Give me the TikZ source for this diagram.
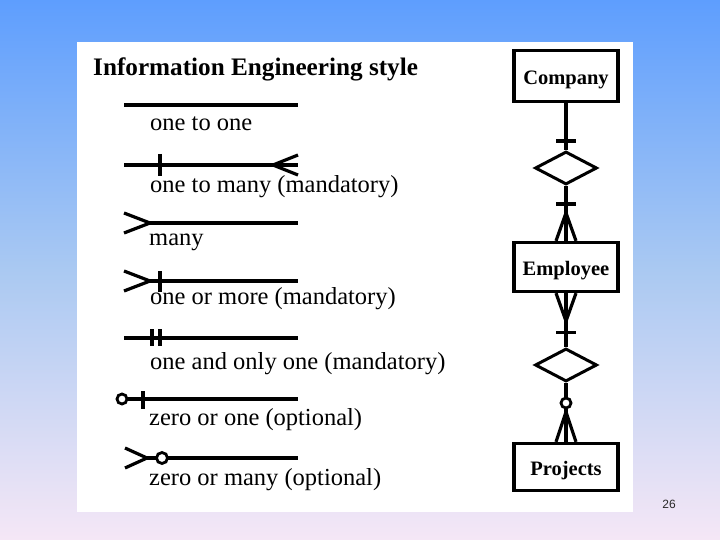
\documentclass[tikz,border=0pt]{standalone}
\usepackage{fontspec}
\setmainfont{Liberation Serif}
\newfontfamily\numfont{Liberation Sans}
\usetikzlibrary{shapes.geometric}
\definecolor{bgtop}{RGB}{94,158,254}
\definecolor{bgmid}{RGB}{170,201,242}
\definecolor{bgbot}{RGB}{245,231,246}
\definecolor{numcol}{RGB}{40,40,40}
\tikzset{
  ln/.style={line width=3.2bp},
  ent/.style={draw, line width=3.2bp, minimum width=104bp, inner sep=0pt, fill=white,
    text height=17bp, text depth=0bp,
    font=\bfseries\fontsize{20.5bp}{24bp}\selectfont},
  rel/.style={draw, shape=diamond, line width=3bp, minimum width=62bp, minimum height=33bp,
    inner sep=0pt, fill=white},
  lbl/.style={anchor=base west, inner sep=0pt, font=\fontsize{24.5bp}{28bp}\selectfont},
  ttl/.style={anchor=base west, inner sep=0pt, font=\bfseries\fontsize{25.2bp}{28bp}\selectfont},
  ring/.style={line width=2.8bp, fill=white},
}
\begin{document}
\begin{tikzpicture}[x=1bp,y=-1bp]
\useasboundingbox (0,0) rectangle (720,540);
\shade[top color=bgtop, bottom color=bgbot, middle color=bgmid] (0,0) rectangle (720,540);
\fill[white] (77,42) rectangle (633,512);

% title
\node[ttl] (title) at (93,76) {Information Engineering style};

% legend 1: one to one
\coordinate (a1) at (124,105); \coordinate (b1) at (298,105);
\draw[ln] (a1) -- (b1);
\node[lbl] (t1) at (150,131) {one to one};

% legend 2: one to many
\coordinate (a2) at (124,165); \coordinate (b2) at (298,165);
\draw[ln] (a2) -- (b2);
\draw[ln] (a2) ++(36,-11) -- ++(0,22);
\draw[ln] (b2) ++(0,-10) -- ++(-25,10) -- ++(25,10);
\node[lbl] (t2) at (150,193) {one to many (mandatory)};

% legend 3: many
\coordinate (a3) at (124,223); \coordinate (b3) at (298,223);
\draw[ln] (a3) ++(26,0) -- (b3);
\draw[ln] (a3) ++(0,-10) -- ++(26,10) -- ++(-26,10);
\node[lbl] (t3) at (149,246) {many};

% legend 4: one or more
\coordinate (a4) at (124,281); \coordinate (b4) at (298,281);
\draw[ln] (a4) ++(26,0) -- (b4);
\draw[ln] (a4) ++(0,-10) -- ++(26,10) -- ++(-26,10);
\draw[ln] (a4) ++(36,-10) -- ++(0,21);
\node[lbl] (t4) at (150,304) {one or more (mandatory)};

% legend 5: one and only one
\coordinate (a5) at (124,338); \coordinate (b5) at (298,338);
\draw[ln] (a5) -- (b5);
\draw[ln] (a5) ++(28,-9) -- ++(0,17);
\draw[ln] (a5) ++(36,-9) -- ++(0,17);
\node[lbl] (t5) at (150,369) {one and only one (mandatory)};

% legend 6: zero or one
\coordinate (a6) at (122,399); \coordinate (b6) at (298,399);
\draw[ln] (a6) -- (b6);
\draw[ln] (a6) ++(21,-8) -- ++(0,18);
\draw[ring] (a6) circle[radius=5];
\node[lbl] (t6) at (149,425) {zero or one (optional)};

% legend 7: zero or many
\coordinate (a7) at (125,458); \coordinate (b7) at (298,458);
\draw[ln] (a7) ++(22,0) -- (b7);
\draw[ln] (a7) ++(0,-10) -- ++(22,10) -- ++(-22,10);
\draw[ring] (a7) ++(37,0) circle[radius=5.5];
\node[lbl] (t7) at (149,485) {zero or many (optional)};

% ER diagram
\node[ent, minimum height=51bp] (C) at (566,76) {Company};
\node[ent, minimum height=49bp] (E) at (566,267) {Employee};
\node[ent, minimum height=47bp] (P) at (566,467) {Projects};
\node[rel] (D1) at (566,168) {};
\node[rel] (D2) at (566,365) {};

% Company -- D1
\draw[ln] (C.south) -- (D1.north);
\draw[ln] (C.south) ++(-10,38) -- ++(20,0);
% D1 -- Employee
\draw[ln] (D1.south) -- (E.north);
\draw[ln] (D1.south) ++(-10,18) -- ++(20,0);
\draw[ln] (E.north) ++(-10,0) -- ++(10,-28) -- ++(10,28);
% Employee -- D2
\draw[ln] (E.south) -- (D2.north);
\draw[ln] (E.south) ++(-10,0) -- ++(10,28) -- ++(10,-28);
\draw[ln] (E.south) ++(-10,39) -- ++(20,0);
% D2 -- Projects
\draw[ln] (D2.south) -- (P.north);
\draw[ln] (P.north) ++(-10,0) -- ++(10,-30) -- ++(10,30);
\draw[ring] (D2.south) ++(0,20) circle[radius=5];

% page number
\node[inner sep=0pt, text=numcol, font=\numfont\fontsize{12bp}{14bp}\selectfont] (pg) at (669,504) {26};
\end{tikzpicture}
\end{document}
